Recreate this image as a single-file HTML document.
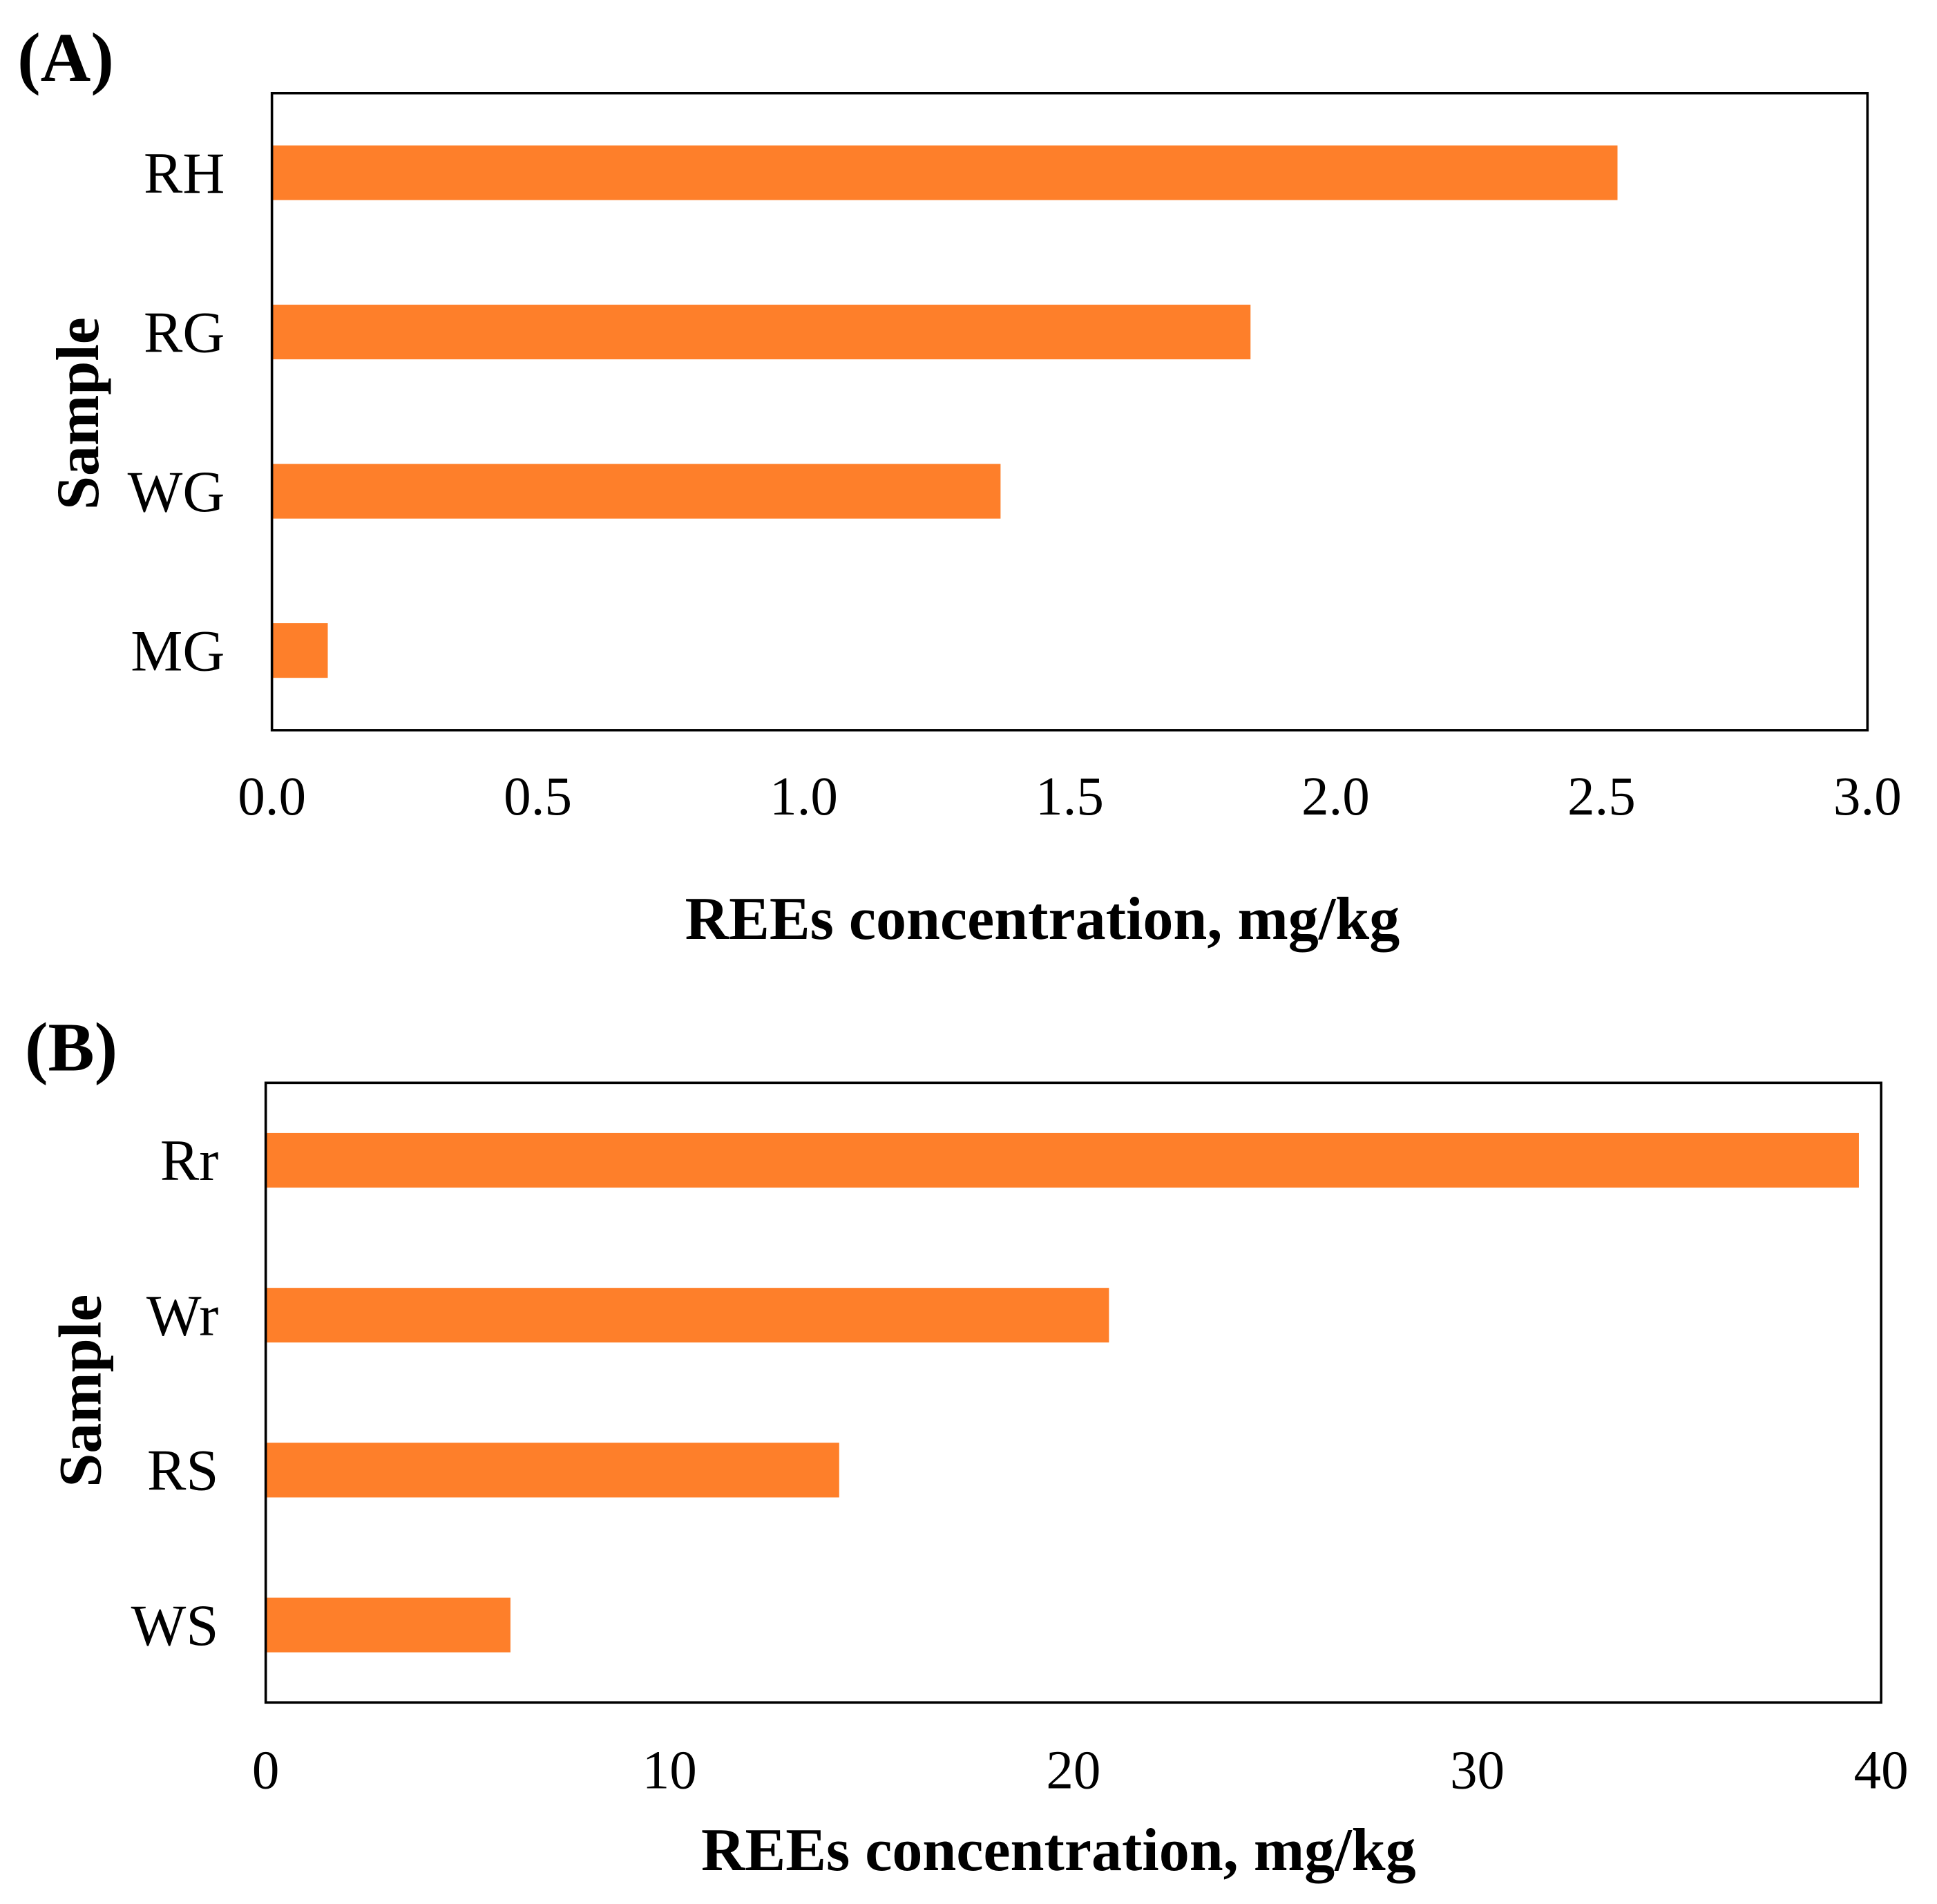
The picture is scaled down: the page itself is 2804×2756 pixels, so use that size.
<!DOCTYPE html>
<html><head><meta charset="utf-8"><style>
html,body{margin:0;padding:0;background:#fff;}
svg{display:block;font-family:"Liberation Serif",serif;}
</style></head><body>
<svg id="chart" width="2804" height="2756" viewBox="0 0 1560 1533.3" preserveAspectRatio="none" xmlns="http://www.w3.org/2000/svg"></svg>
<script>
const catsA = ["RH","RG","WG","MG"];
const valsA = [2.53, 1.84, 1.37, 0.105];
const ticksA = ["0.0","0.5","1.0","1.5","2.0","2.5","3.0"];
const tickValsA = [0,0.5,1,1.5,2,2.5,3];
const catsB = ["Rr","Wr","RS","WS"];
const valsB = [39.45, 20.88, 14.2, 6.06];
const ticksB = ["0","10","20","30","40"];
const tickValsB = [0,10,20,30,40];

const svg = document.getElementById('chart');
const NS = 'http://www.w3.org/2000/svg';
function el(tag, attrs, parent){const e=document.createElementNS(NS,tag);for(const k in attrs)e.setAttribute(k,attrs[k]);(parent||svg).appendChild(e);return e;}

function panel(cfg){
  const g = el('g',{});
  
  
  const x = v => cfg.x0 + (v - 0) / cfg.max * (cfg.x1 - cfg.x0);
  const band = (cfg.y1 - cfg.y0) / cfg.cats.length;
  cfg.vals.forEach((v,i)=>{
    const cy = cfg.y0 + band*(i+0.5);
    const r = el('rect',{x:x(0), y:cy-22, width:x(v)-x(0), height:44, fill:'#FE7F2A'}, g);
    
    
    const t = el('text',{x:cfg.x0-38, y:cy+16, 'text-anchor':'end', 'font-size':47}, g);
    t.textContent = cfg.cats[i];
    
    
  });
  const box = el('rect',{x:cfg.x0, y:cfg.y0, width:cfg.x1-cfg.x0, height:cfg.y1-cfg.y0, fill:'none', stroke:'#000', 'stroke-width':2}, g);
  
  
  cfg.tickVals.forEach((v,i)=>{
    const t = el('text',{x:x(v), y:cfg.tickY, 'text-anchor':'middle', 'font-size':44}, g);
    t.textContent = cfg.ticks[i];
    
    
  });
  const xt = el('text',{x:(cfg.x0+cfg.x1)/2+ (cfg.titleShift||0), y:cfg.titleY, 'text-anchor':'middle', 'font-size':49, 'font-weight':'bold'}, g);
  xt.textContent = 'REEs concentration, mg/kg';
  
  
  const yt = el('text',{x:0, y:0, 'text-anchor':'middle', 'font-size':49, 'font-weight':'bold', transform:`translate(${cfg.sampleX},${cfg.sampleY}) rotate(-90)`}, g);
  yt.textContent = 'Sample';
  
  
  const pl = el('text',{x:cfg.labelX, y:cfg.labelY, 'font-size':56, 'font-weight':'bold'}, g);
  pl.textContent = cfg.label;
  
  
}

panel({name:'panel-a', cats:catsA, vals:valsA, ticks:ticksA, tickVals:tickValsA, max:3,
  x0:219, x1:1504, y0:75, y1:588, tickY:656, titleY:756, titleShift:-22, sampleX:79, sampleY:333,
  label:'(A)', labelX:14, labelY:65});
panel({name:'panel-b', cats:catsB, vals:valsB, ticks:ticksB, tickVals:tickValsB, max:40,
  x0:214, x1:1515, y0:872, y1:1371, tickY:1440, titleY:1506, titleShift:-12, sampleX:81, sampleY:1120,
  label:'(B)', labelX:20, labelY:862});
</script>
</body></html>
